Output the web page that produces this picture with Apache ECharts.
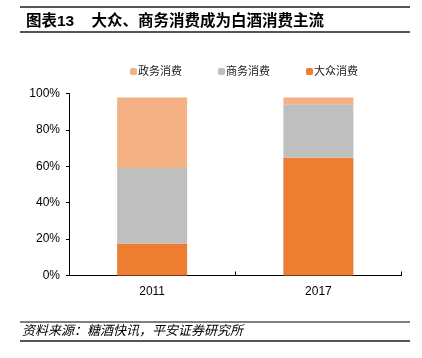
<!DOCTYPE html>
<html>
<head>
<meta charset="utf-8">
<script src="https://cdn.jsdelivr.net/npm/echarts@6/dist/echarts.min.js"></script>
<style>html,body{margin:0;padding:0;background:#fff;}#c{width:422px;height:358px;}</style>
</head>
<body>
<div id="c"></div>
<script>
var categories = ['2011', '2017'];
var massValues = [17.6, 64.7];      // 大众消费
var businessValues = [41.4, 29.4];  // 商务消费
var govValues = [38.8, 3.7];        // 政务消费
var yTicks = [0, 20, 40, 60, 80, 100];

var font = '"Liberation Sans", "Noto Sans CJK SC", sans-serif';
var chart = echarts.init(document.getElementById('c'), null, {renderer: 'canvas'});
chart.setOption({
  animation: false,
  backgroundColor: '#fff',
  title: {
    text: '图表13    大众、商务消费成为白酒消费主流',
    left: 21, top: 9,
    textStyle: {fontFamily: font, fontSize: 15.5, fontWeight: 'bold', color: '#000'}
  },
  legend: {
    data: ['政务消费', '商务消费', '大众消费'],
    top: 61, left: 125,
    itemWidth: 7, itemHeight: 7, itemGap: 36,
    icon: 'roundRect',
    textStyle: {fontFamily: font, fontSize: 11, color: '#222', padding: [0, 0, 0, -4]}
  },
  grid: {left: 69, right: 20.5, top: 93.5, bottom: 82.5},
  xAxis: {
    type: 'category',
    data: categories,
    axisLine: {lineStyle: {color: '#000', width: 1}},
    axisTick: {show: true, inside: true, length: 4, lineStyle: {color: '#000'}},
    axisLabel: {color: '#000', fontFamily: font, fontSize: 12, margin: 10}
  },
  yAxis: {
    type: 'value', min: yTicks[0], max: yTicks[yTicks.length - 1], interval: 20,
    axisLine: {show: true, lineStyle: {color: '#000', width: 1}},
    axisTick: {show: true, length: 3, lineStyle: {color: '#000'}},
    splitLine: {show: false},
    axisLabel: {formatter: '{value}%', color: '#000', fontFamily: font, fontSize: 12, margin: 9}
  },
  series: [
    {name: '大众消费', type: 'bar', stack: 's', data: massValues, barWidth: 70, itemStyle: {color: '#ED7D31'}},
    {name: '商务消费', type: 'bar', stack: 's', data: businessValues, itemStyle: {color: '#BFBFBF'}},
    {name: '政务消费', type: 'bar', stack: 's', data: govValues, itemStyle: {color: '#F4B183'}}
  ],
  graphic: [
    {type: 'line', shape: {x1: 20, y1: 7, x2: 410, y2: 7}, style: {stroke: '#555', lineWidth: 2}},
    {type: 'line', shape: {x1: 20, y1: 32, x2: 410, y2: 32}, style: {stroke: '#555', lineWidth: 2}},
    {type: 'line', shape: {x1: 20, y1: 322, x2: 410, y2: 322}, style: {stroke: '#000', lineWidth: 1}},
    {type: 'line', shape: {x1: 20, y1: 341, x2: 410, y2: 341}, style: {stroke: '#555', lineWidth: 2}},
    {type: 'text', left: 22, top: 324, style: {text: '资料来源：糖酒快讯，平安证券研究所', font: 'italic 13px "Noto Sans CJK SC", sans-serif', fill: '#000'}}
  ]
});
</script>
</body>
</html>
